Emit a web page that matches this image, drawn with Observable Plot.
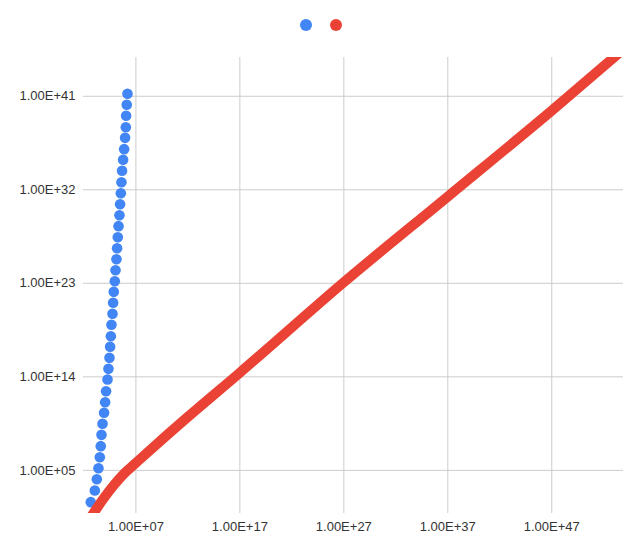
<!DOCTYPE html>
<html>
<head>
<meta charset="utf-8">
<script src="https://cdn.jsdelivr.net/npm/d3@7"></script>
<script src="https://cdn.jsdelivr.net/npm/@observablehq/plot@0.6"></script>
<style>
  html, body { margin: 0; padding: 0; background: #fff; }
  #wrap { position: relative; width: 629px; height: 545px; }
  #legend { position: absolute; top: 19px; left: 300px; display: flex; gap: 18px; }
  #legend span { display: inline-block; width: 12px; height: 12px; border-radius: 50%; }
</style>
</head>
<body>
<div id="wrap">
  <div id="legend"><span style="background:#4285F4"></span><span style="background:#EA4335"></span></div>
  <div id="chart"></div>
</div>
<script>
// Blue series (exponents of 10)
const blueLogX = [2.66, 3.05, 3.24, 3.40, 3.53, 3.62, 3.69, 3.79, 3.94, 4.04, 4.13, 4.27, 4.36, 4.46, 4.52, 4.59, 4.65, 4.75, 4.81, 4.87, 4.97, 5.04, 5.13, 5.19, 5.26, 5.33, 5.42, 5.48, 5.55, 5.61, 5.67, 5.77, 5.87, 5.96, 6.03, 6.06, 6.12, 6.19];
const blueLogY = [1.94, 3.06, 4.15, 5.21, 6.27, 7.33, 8.42, 9.48, 10.54, 11.56, 12.62, 13.74, 14.77, 15.83, 16.89, 17.91, 19.01, 20.07, 21.13, 22.18, 23.20, 24.26, 25.32, 26.38, 27.44, 28.50, 29.55, 30.61, 31.67, 32.73, 33.83, 34.89, 35.91, 37.00, 38.02, 39.12, 40.18, 41.24];
// Red series (exponents of 10)
const redLogX = [2.5, 2.9, 3.9, 4.9, 5.9, 7, 9, 12, 17, 27, 37, 47, 54.5];
const redLogY = [0.25, 0.85, 2.3, 3.6, 4.72, 5.72, 7.52, 10.15, 14.4, 23.1, 31.35, 39.62, 46.04];
// Axis ticks
const xTicks = [1e7, 1e17, 1e27, 1e37, 1e47];
const yTicks = [1e5, 1e14, 1e23, 1e32, 1e41];
const xDomainLog = [1.96, 53.9];
const yDomainLog = [0.85, 44.73];

const blue = blueLogX.map((v, i) => ({x: 10 ** v, y: 10 ** blueLogY[i]}));
const red = redLogX.map((v, i) => ({x: 10 ** v, y: 10 ** redLogY[i]}));
const fmt = v => "1.00E+" + String(Math.round(Math.log10(v))).padStart(2, "0");

const chart = Plot.plot({
  width: 629,
  height: 545,
  marginTop: 57,
  marginBottom: 32,
  marginLeft: 83,
  marginRight: 6,
  style: {fontFamily: "'Liberation Sans', Arial, sans-serif", fontSize: "13px", color: "#444", background: "transparent"},
  x: {type: "log", domain: xDomainLog.map(d => 10 ** d)},
  y: {type: "log", domain: yDomainLog.map(d => 10 ** d)},
  marks: [
    Plot.gridX(xTicks, {stroke: "#cccccc", strokeOpacity: 1}),
    Plot.gridY(yTicks, {stroke: "#cccccc", strokeOpacity: 1}),
    Plot.axisX(xTicks, {tickSize: 0, tickPadding: 8, tickFormat: fmt, label: null, fill: "#333"}),
    Plot.axisY(yTicks, {tickSize: 0, tickPadding: 8, tickFormat: fmt, label: null, fill: "#333"}),
    Plot.dot(blue, {x: "x", y: "y", r: 5.3, fill: "#4285F4", stroke: "none"}),
    Plot.line(red, {x: "x", y: "y", stroke: "#EA4335", strokeWidth: 10, curve: "monotone-x", clip: true, strokeLinecap: "butt"})
  ]
});
document.getElementById("chart").appendChild(chart);
</script>
</body>
</html>
